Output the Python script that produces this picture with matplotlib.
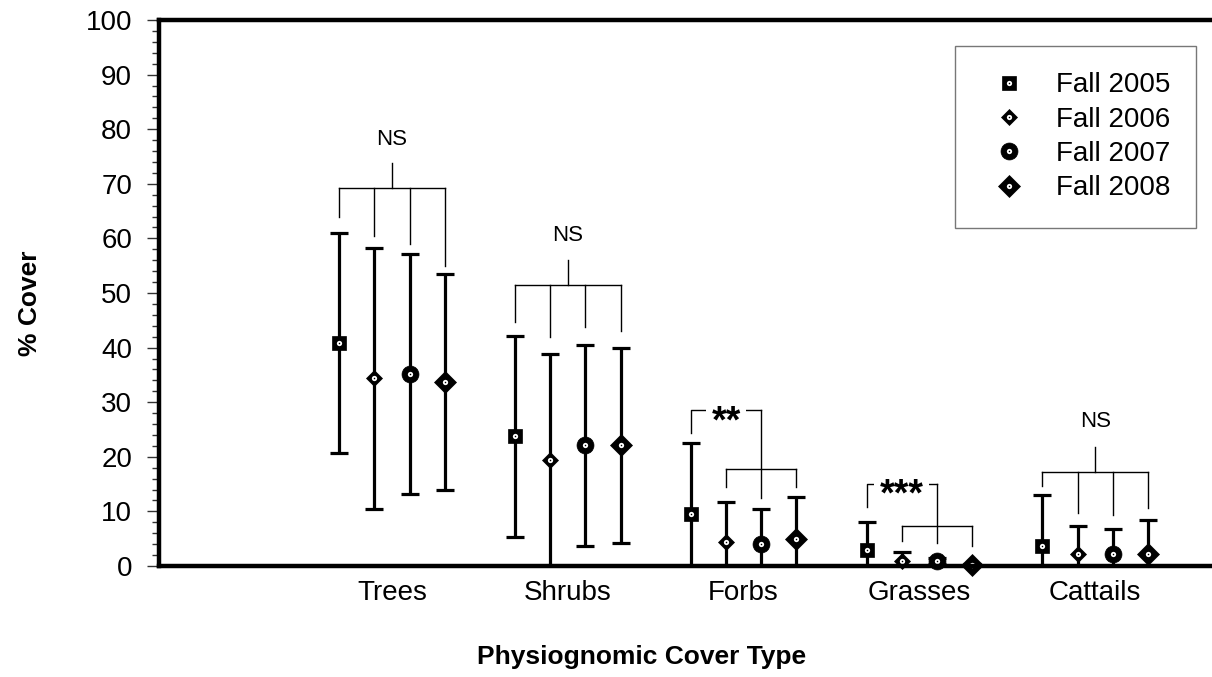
import numpy as np
import matplotlib.pyplot as plt
from matplotlib.ticker import MultipleLocator
from matplotlib.transforms import offset_copy

plt.rcParams['font.family'] = ['Liberation Sans', 'DejaVu Sans']

cover_types = ['Trees', 'Shrubs', 'Forbs', 'Grasses', 'Cattails']
seasons = ['Fall 2005', 'Fall 2006', 'Fall 2007', 'Fall 2008']

# mean % cover, one value per cover type
mean_2005 = [40.8, 23.8, 9.5, 2.9, 3.6]
mean_2006 = [34.4, 19.4, 4.4, 0.9, 2.2]
mean_2007 = [35.1, 22.1, 4.1, 0.9, 2.2]
mean_2008 = [33.7, 22.1, 4.9, 0.1, 2.2]

# standard deviations
sd_2005 = [20.1, 18.4, 13.0, 5.1, 9.4]
sd_2006 = [23.9, 19.5, 7.3, 1.7, 5.2]
sd_2007 = [22.0, 18.4, 6.3, 0.6, 4.5]
sd_2008 = [19.7, 17.9, 7.7, 0.2, 6.3]

means = [mean_2005, mean_2006, mean_2007, mean_2008]
sds = [sd_2005, sd_2006, sd_2007, sd_2008]

# non-significant brackets (all four seasons)
ns_groups = ['Trees', 'Shrubs', 'Cattails']
ns_label = [78.2, 60.5, 26.5]
ns_stub = [73.9, 56.0, 21.8]
ns_bar = [69.3, 51.4, 17.2]
ns_legs = [[64.0, 60.5, 59.0, 55.0],
           [44.6, 41.9, 43.7, 43.1],
           [14.6, 9.7, 9.3, 10.6]]

# significant: 2005 against the pooled 2006-2008
sig_groups = ['Forbs', 'Grasses']
sig_marks = ['**', '***']
sig_top = [28.5, 15.0]
sig_first_leg = [24.3, 10.8]
sig_bar = [17.7, 7.3]
sig_legs = [[14.4, 12.4, 14.4],
            [4.6, 4.2, 3.7]]

offsets = [-0.30, -0.10, 0.10, 0.30]
markers = [('s', 9.4), ('D', 8.6), ('o', 12.2), ('D', 11.2)]

fig = plt.figure(figsize=(12.12, 6.77), dpi=100)
ax = fig.add_axes([159 / 1212, 111 / 677, 1053 / 1212, 546 / 677])

x = np.arange(1, len(cover_types) + 1)
handles = []
for i in range(4):
    xs = x + offsets[i]
    ax.errorbar(xs, means[i], yerr=sds[i], fmt='none', ecolor='black',
                elinewidth=2.3, capsize=6.8, capthick=2.3, zorder=3)
    m, ms = markers[i]
    h1, = ax.plot(xs, means[i], ls='none', marker=m, ms=ms, mfc='black',
                  mec='black', mew=0.5, zorder=4, clip_on=False)
    h2, = ax.plot(xs, means[i], ls='none', marker='o', ms=3.8, mfc='white',
                  mec='white', mew=0, zorder=5, clip_on=False)
    h3, = ax.plot(xs, means[i], ls='none', marker='o', ms=1.1, mfc='black',
                  mec='black', mew=0, zorder=6, clip_on=False)
    handles.append((h1, h2, h3))

lw_br = 1.0
for k, name in enumerate(ns_groups):
    c = cover_types.index(name) + 1
    xs = [c + o for o in offsets]
    ax.plot([xs[0], xs[-1]], [ns_bar[k]] * 2, color='black', lw=lw_br, zorder=2)
    ax.plot([c, c], [ns_bar[k], ns_stub[k]], color='black', lw=lw_br, zorder=2)
    for xx, yy in zip(xs, ns_legs[k]):
        ax.plot([xx, xx], [ns_bar[k], yy], color='black', lw=lw_br, zorder=2)
    ax.text(c, ns_label[k], 'NS', ha='center', va='center', fontsize=16)

fs_star = 27
star_tr = offset_copy(ax.transData, fig=fig, y=-0.58 * fs_star, units='points')
for k, name in enumerate(sig_groups):
    c = cover_types.index(name) + 1
    xs = [c + o for o in offsets]
    mid = (xs[1] + xs[3]) / 2
    # upper bracket: 2005 vs the rest
    ax.plot([xs[0], xs[0], mid], [sig_first_leg[k], sig_top[k], sig_top[k]],
            color='black', lw=lw_br, zorder=2)
    # lower bracket over 2006-2008
    ax.plot([xs[1], xs[3]], [sig_bar[k]] * 2, color='black', lw=lw_br, zorder=2)
    legs_x = [xs[1], mid, xs[3]]
    legs_top = [sig_bar[k], sig_top[k], sig_bar[k]]
    for xx, y0, y1 in zip(legs_x, legs_top, sig_legs[k]):
        ax.plot([xx, xx], [y0, y1], color='black', lw=lw_br, zorder=2)
    ax.text(xs[1], sig_top[k], sig_marks[k], ha='center', va='baseline',
            fontsize=fs_star, fontweight='bold', transform=star_tr, zorder=3,
            bbox=dict(boxstyle='square,pad=0.15', fc='white', ec='none'))

ax.set_xlim(1 - 233 / 175.8, 1 + 820 / 175.8)
ax.set_ylim(0, 100)
ax.set_xticks(x)
ax.set_xticklabels(cover_types)
ax.yaxis.set_major_locator(MultipleLocator(10))
ax.yaxis.set_minor_locator(MultipleLocator(2))
ax.tick_params(axis='x', length=0, pad=10, labelsize=20)
ax.tick_params(axis='y', which='major', length=8.8, width=1.0, color='#333333',
               pad=10.5, labelsize=20)
ax.tick_params(axis='y', which='minor', length=4.7, width=1.0, color='#333333')

for side in ['left', 'bottom', 'top']:
    ax.spines[side].set_linewidth(3.2)
    ax.spines[side].set_zorder(7)
ax.spines['right'].set_visible(False)

fig.text(30 / 1212, 1 - 303 / 677, '% Cover', rotation=90, ha='center',
         va='center', fontsize=19, fontweight='bold')
fig.text(642 / 1212, 1 - 657 / 677, 'Physiognomic Cover Type', ha='center',
         va='center', fontsize=19, fontweight='bold')

leg = ax.legend(handles, seasons, loc='upper left',
                bbox_to_anchor=(955 / 1212, 1 - 46 / 677),
                bbox_transform=fig.transFigure, borderaxespad=0,
                fontsize=20, frameon=True, fancybox=False, borderpad=0.95,
                handlelength=2.0, handletextpad=0.67, labelspacing=0.3)
leg.get_frame().set_edgecolor('#555555')
leg.get_frame().set_linewidth(1.0)

fig.savefig('out.png', dpi=100)
